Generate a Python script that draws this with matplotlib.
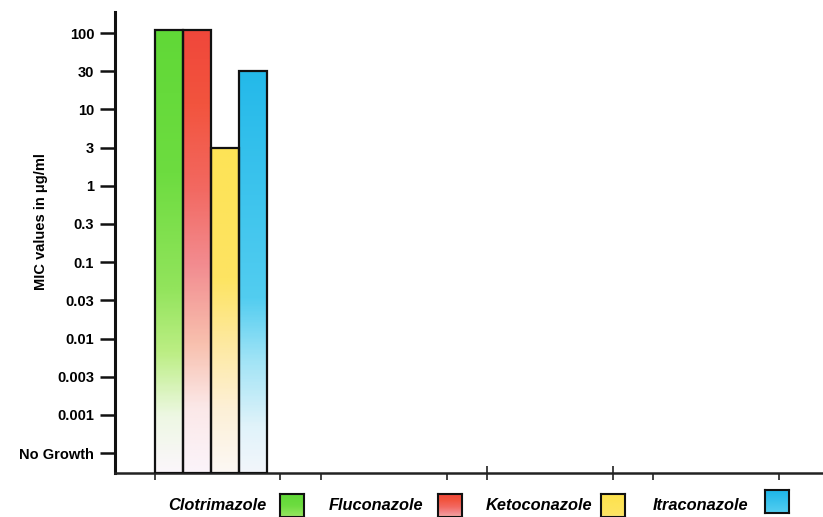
import numpy as np
import matplotlib
matplotlib.use('Agg')
import matplotlib.pyplot as plt
from matplotlib.colors import LinearSegmentedColormap
from matplotlib.patches import Rectangle

# data
drugs = ['Clotrimazole', 'Fluconazole', 'Ketoconazole', 'Itraconazole']
mic = [110, 110, 3, 30]          # ug/ml, first two drawn just above 100
tick_labels = ['No Growth', '0.001', '0.003', '0.01', '0.03', '0.1', '0.3', '1', '3', '10', '30', '100']
tick_values = [0.001, 0.003, 0.01, 0.03, 0.1, 0.3, 1, 3, 10, 30, 100]
n_groups = 4

# colour ramps, bottom (near white) to top
ramps = [
    [(0.0, '#fbf6fb'), (0.12, '#eef8e4'), (0.26, '#bcee84'), (0.4, '#92e45c'), (0.65, '#6ddc40'), (1.0, '#5fd836')],
    [(0.0, '#fbf4fa'), (0.14, '#fbe8e8'), (0.28, '#f8c0ae'), (0.45, '#f28c90'), (0.62, '#f26860'), (0.8, '#f2543e'), (1.0, '#f0443a')],
    [(0.0, '#fcf8f4'), (0.14, '#fdf0d6'), (0.28, '#fde9a0'), (0.42, '#fde462'), (1.0, '#fde24a')],
    [(0.0, '#f2f6fb'), (0.1, '#e0f3fa'), (0.24, '#a2e4f6'), (0.38, '#52cdf0'), (1.0, '#18b4e8')],
]

YMIN, YMAX = -0.52, 11.55


def to_level(v):
    logs = np.log10(tick_values)
    levels = np.arange(1, len(tick_values) + 1)
    lv = np.log10(v)
    if lv <= logs[-1]:
        return np.interp(lv, logs, levels)
    return levels[-1] + (lv - logs[-1]) / (logs[-1] - logs[-2])


plt.rcParams['font.family'] = 'Liberation Sans'
plt.rcParams['font.weight'] = 'bold'

fig = plt.figure(figsize=(8.23, 5.17), dpi=100)
ax = fig.add_axes([115 / 823, 44 / 517, 1 - 115 / 823, 461 / 517])

bar_w = 0.169
grp_w = 0.755
for i, (name, v) in enumerate(zip(drugs, mic)):
    top = to_level(v)
    x0 = i * bar_w
    cmap = LinearSegmentedColormap.from_list(name, ramps[i])
    lev = np.linspace(YMIN, top, 300)
    grad = cmap((lev - YMIN) / (YMAX - YMIN))[:, None, :]
    ax.imshow(grad, extent=[x0, x0 + bar_w, YMIN, top], aspect='auto',
              origin='lower', zorder=2, interpolation='bilinear')
    ax.add_patch(Rectangle((x0, YMIN), bar_w, top - YMIN, fill=False,
                           edgecolor='#111111', linewidth=1.6, zorder=3))

ax.set_xlim(-0.24, 4.02)
ax.set_ylim(YMIN, YMAX)
ax.set_aspect('auto')

ax.set_yticks(np.arange(len(tick_labels)))
ax.set_yticklabels(tick_labels, fontsize=10.5, fontweight='bold')
ax.tick_params(axis='y', length=11, width=1.8, pad=4, color='#111111')

xt = []
for g in range(n_groups):
    xt += [g, g + grp_w]
ax.set_xticks(xt)
ax.set_xticklabels([])
ax.tick_params(axis='x', length=5, width=1.2, direction='out', color='#222222')
# the two middle ticks cross the axis line
for k in (4, 5):
    t = ax.xaxis.get_major_ticks()[k]
    t.tick1line.set_marker('|')
    t.tick1line.set_markersize(10)

for s in ['top', 'right']:
    ax.spines[s].set_visible(False)
ax.spines['left'].set_linewidth(2.2)
ax.spines['bottom'].set_linewidth(1.8)
ax.spines['left'].set_color('#111111')
ax.spines['bottom'].set_color('#222222')

ax.set_ylabel('MIC values in \u03bcg/ml', fontsize=10.5, fontweight='bold')
ax.yaxis.set_label_coords(-0.094, 0.545)

# legend row under the axis: name then a shaded square
text_right = [266, 423, 592, 748]
sq_left = [280, 438, 601, 765]
sq_top = [494, 494, 494, 490]
for i, name in enumerate(drugs):
    fig.text(text_right[i] / 823, 1 - 505 / 517, name, ha='right', va='center',
             fontsize=11.8, fontweight='bold', style='italic')
    sax = fig.add_axes([sq_left[i] / 823, 1 - (sq_top[i] + 23) / 517, 24 / 823, 23 / 517])
    cmap = LinearSegmentedColormap.from_list(name + '_sq', ramps[i])
    sq = cmap(np.linspace(0.35, 0.95, 50))[:, None, :]
    sax.imshow(sq, aspect='auto', origin='lower', extent=[0, 1, 0, 1])
    sax.set_xticks([])
    sax.set_yticks([])
    for s in sax.spines.values():
        s.set_linewidth(1.5)
        s.set_color('#111111')

fig.savefig('out.png', dpi=100)
